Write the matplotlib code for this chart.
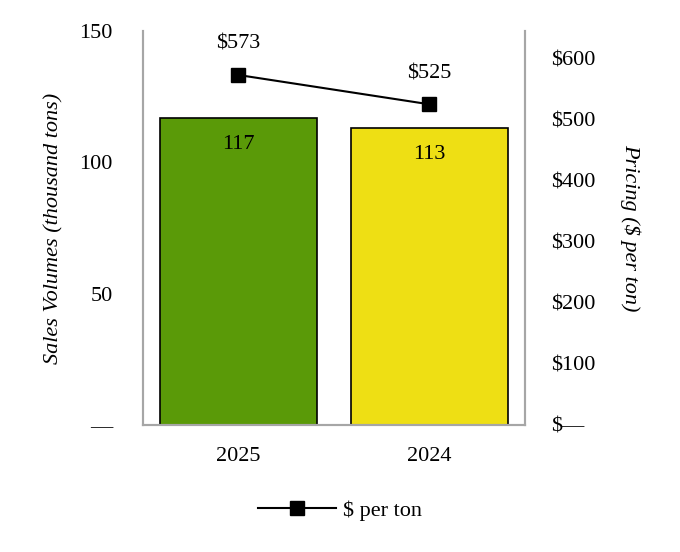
import numpy as np
import matplotlib.pyplot as plt
from matplotlib.ticker import FixedLocator, FixedFormatter

years = ["2025", "2024"]
volumes = [117, 113]
prices = [573, 525]
bar_colors = ["#5a9a08", "#eedf14"]
left_ticks = [0, 50, 100, 150]
left_labels = ["—", "50", "100", "150"]
right_ticks = [0, 100, 200, 300, 400, 500, 600]
right_labels = ["$—", "$100", "$200", "$300", "$400", "$500", "$600"]

plt.rcParams["font.family"] = ["Liberation Serif", "DejaVu Serif"]
plt.rcParams["font.size"] = 16

fig = plt.figure(figsize=(6.8, 5.52), dpi=100)
ax = fig.add_axes([0.2103, 0.2301, 0.5617, 0.7137])
x = np.arange(len(years))

bars = ax.bar(x, volumes, width=0.82, color=bar_colors, edgecolor="black",
              linewidth=1.2, zorder=2)
for xi, v in zip(x, volumes):
    ax.annotate(f"{v}", (xi, v), xytext=(0, -19), textcoords="offset points",
                ha="center", va="center")

ax.set_xlim(-0.5, 1.5)
ax.set_ylim(0, 150)
ax.set_xticks(x)
ax.set_xticklabels(years)
ax.yaxis.set_major_locator(FixedLocator(left_ticks))
ax.yaxis.set_major_formatter(FixedFormatter(left_labels))
ax.tick_params(axis="both", length=0)
ax.tick_params(axis="y", pad=22)
ax.tick_params(axis="x", pad=16)
ax.set_ylabel("Sales Volumes (thousand tons)", style="italic", labelpad=11)
ax.spines["top"].set_visible(False)
for s in ["left", "right", "bottom"]:
    ax.spines[s].set_color("#a6a6a6")
    ax.spines[s].set_linewidth(1.5)

ax2 = ax.twinx()
line, = ax2.plot(x, prices, color="black", linewidth=1.5, marker="s",
                 markersize=10, label="$ per ton", zorder=3)
for xi, p in zip(x, prices):
    ax2.annotate(f"${p}", (xi, p), xytext=(0, 22), textcoords="offset points",
                 ha="center", va="center")
ax2.set_ylim(0, 645)
ax2.yaxis.set_major_locator(FixedLocator(right_ticks))
ax2.yaxis.set_major_formatter(FixedFormatter(right_labels))
ax2.tick_params(axis="y", length=0, pad=19)
ax2.set_ylabel("Pricing ($ per ton)", style="italic", rotation=-90,
               labelpad=32)
ax2.spines["top"].set_visible(False)
for s in ["left", "right", "bottom"]:
    ax2.spines[s].set_color("#a6a6a6")
    ax2.spines[s].set_linewidth(1.5)

fig.legend(handles=[line], loc="center", bbox_to_anchor=(0.5, 0.075),
           frameon=False, handlelength=3.5, handletextpad=0.3)

fig.savefig("out.png", dpi=100)
